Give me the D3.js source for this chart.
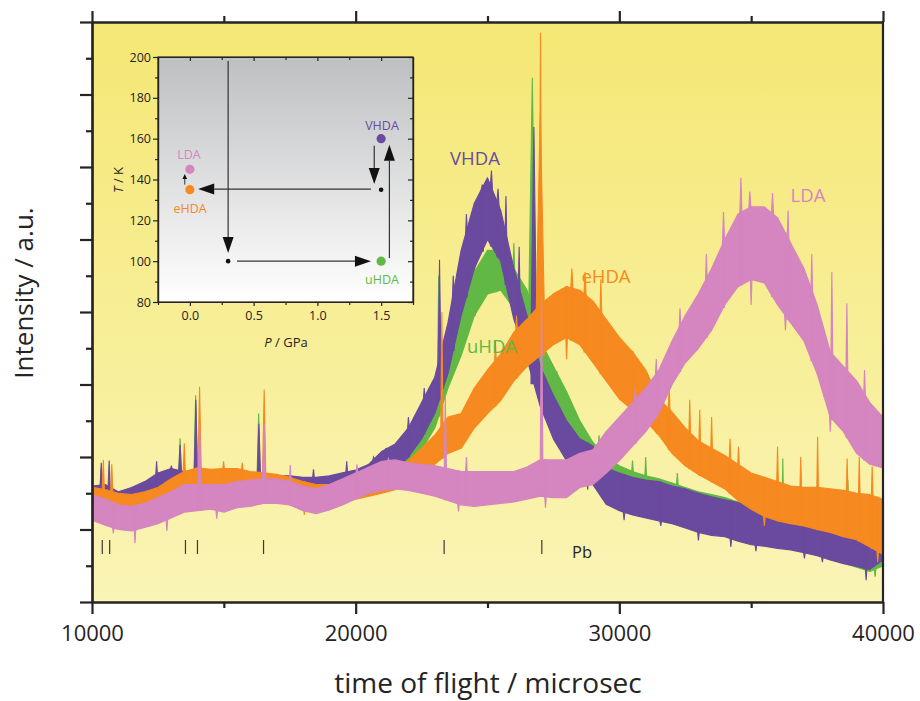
<!DOCTYPE html>
<html><head><meta charset="utf-8">
<script src="https://cdn.jsdelivr.net/npm/d3@7"></script>
<style>body{margin:0;background:#fff}svg{display:block}text{font-family:"Open Sans",sans-serif}</style>
</head><body>
<svg id="c" width="920" height="701"></svg>
<script>
// ---------- DATA (time of flight in microsec, intensity in arbitrary units) ----------
const tof = [10000,10500,11000,11500,12000,12500,13000,13500,14000,14500,
             15000,15500,16000,16500,17000,17500,18000,18500,19000,19500,
             20000,20500,21000,21500,22000,22500,23000,23500,24000,24500,
             25000,25500,26000,26500,27000,27500,28000,28500,29000,29500,
             30000,30500,31000,31500,32000,32500,33000,33500,34000,34500,
             35000,35500,36000,36500,37000,37500,38000,38500,39000,39500,40000];

// lower / upper edge of the noisy trace
const vhdaLo = [1.36,1.34,1.31,1.36,1.41,1.50,1.56,1.50,1.52,1.52,
                1.54,1.52,1.50,1.48,1.46,1.45,1.42,1.44,1.48,1.50,
                1.54,1.60,1.70,1.82,2.00,2.25,2.60,3.15,3.95,4.60,
                5.00,4.70,3.90,3.35,2.70,2.25,1.95,1.75,1.62,1.35,
                1.26,1.20,1.16,1.12,1.08,1.02,0.96,0.92,0.90,0.84,
                0.79,0.77,0.74,0.72,0.68,0.64,0.58,0.53,0.49,0.45,0.58];
const vhdaHi = [1.60,1.62,1.52,1.58,1.66,1.78,1.84,1.80,1.82,1.78,
                1.78,1.78,1.76,1.76,1.74,1.74,1.72,1.72,1.74,1.78,
                1.82,1.90,2.08,2.18,2.40,2.75,3.10,3.85,4.85,5.50,
                5.85,5.40,4.60,3.95,3.25,2.85,2.50,2.25,2.15,1.85,
                1.78,1.72,1.68,1.66,1.60,1.56,1.50,1.45,1.41,1.37,
                1.32,1.28,1.25,1.22,1.19,1.15,1.10,1.07,1.04,1.10,1.28];
const uhdaLo = [1.34,1.32,1.30,1.33,1.38,1.46,1.52,1.50,1.50,1.50,
                1.52,1.50,1.48,1.46,1.45,1.44,1.42,1.43,1.46,1.50,
                1.53,1.58,1.66,1.76,1.90,2.10,2.40,2.95,3.40,3.95,
                4.25,4.30,4.05,3.70,3.10,2.70,2.35,2.00,1.72,1.56,
                1.40,1.32,1.27,1.24,1.18,1.10,1.02,0.96,0.92,0.86,
                0.82,0.80,0.76,0.73,0.70,0.66,0.60,0.54,0.48,0.42,0.50];
const uhdaHi = [1.58,1.58,1.50,1.55,1.62,1.74,1.80,1.78,1.80,1.76,
                1.76,1.76,1.74,1.74,1.72,1.72,1.70,1.70,1.73,1.77,
                1.80,1.88,2.00,2.10,2.28,2.55,2.90,3.45,4.05,4.55,
                4.85,4.85,4.60,4.30,3.60,3.25,2.90,2.50,2.20,2.00,
                1.88,1.80,1.74,1.70,1.64,1.58,1.52,1.48,1.44,1.38,
                1.35,1.30,1.27,1.24,1.20,1.17,1.12,1.08,1.05,1.08,1.18];
const ehdaLo = [1.27,1.24,1.22,1.22,1.24,1.28,1.36,1.45,1.50,1.55,
                1.54,1.55,1.54,1.52,1.50,1.46,1.34,1.32,1.34,1.38,
                1.42,1.46,1.50,1.55,1.64,1.78,1.90,2.05,2.12,2.40,
                2.60,2.78,3.05,3.25,3.40,3.55,3.65,3.55,3.30,3.05,
                2.80,2.65,2.50,2.30,2.05,1.88,1.76,1.66,1.56,1.40,
                1.28,1.18,1.12,1.08,1.05,1.00,0.96,0.90,0.86,0.76,0.66];
const ehdaHi = [1.58,1.55,1.50,1.48,1.52,1.58,1.70,1.80,1.85,1.83,
                1.84,1.84,1.80,1.78,1.76,1.72,1.66,1.62,1.62,1.64,
                1.68,1.72,1.76,1.82,1.95,2.12,2.30,2.55,2.60,2.95,
                3.20,3.42,3.72,3.90,4.10,4.25,4.35,4.30,4.15,3.90,
                3.65,3.45,3.20,2.80,2.62,2.40,2.22,2.12,2.02,1.90,
                1.78,1.72,1.66,1.60,1.58,1.58,1.56,1.54,1.50,1.48,1.42];
const ldaLo  = [1.13,1.06,1.00,0.98,1.03,1.08,1.16,1.24,1.26,1.28,
                1.24,1.30,1.32,1.36,1.36,1.34,1.26,1.22,1.27,1.34,
                1.42,1.50,1.54,1.56,1.54,1.50,1.46,1.40,1.34,1.32,
                1.34,1.36,1.38,1.42,1.46,1.44,1.44,1.58,1.62,1.78,
                1.95,2.15,2.35,2.60,3.00,3.30,3.50,3.75,4.10,4.35,
                4.45,4.40,4.10,3.85,3.60,3.15,2.55,2.35,2.05,1.90,1.85];
const ldaHi  = [1.48,1.42,1.34,1.32,1.36,1.44,1.52,1.62,1.62,1.62,
                1.62,1.66,1.68,1.70,1.70,1.66,1.60,1.56,1.62,1.70,
                1.78,1.86,1.94,1.96,1.92,1.90,1.88,1.84,1.80,1.80,
                1.80,1.80,1.80,1.86,1.96,1.96,1.96,2.05,2.10,2.35,
                2.55,2.75,2.95,3.20,3.60,3.95,4.25,4.60,5.00,5.35,
                5.45,5.45,5.30,4.95,4.60,4.10,3.45,3.25,3.05,2.75,2.55];

// sharp features: [tof, intensity, half width in microsec]
// (values above the trace are peaks, values below it are dips)
const vhdaPeaks = [[10350,1.92,40],[10650,1.95,40],[12450,1.94,30],[13010,1.88,30],[13340,2.17,50],[13940,2.79,60],
                   [16330,2.46,60],[18400,1.83,30],[19660,1.94,30],[20680,2.00,30],[21160,2.12,30],[22000,2.55,30],
                   [22600,2.95,30],[23180,4.72,50],[23700,4.50,30],[24200,5.35,30],[24800,5.75,40],[25150,5.95,40],
                   [25400,5.70,40],[25700,5.60,30],[26200,4.90,30],[26760,6.55,110],[39300,1.45,30],
                   [28800,1.55,30],[30180,1.13,30],[31570,1.05,30],[33000,0.85,30],[34230,0.76,30],[35180,0.70,30],
                   [37020,0.60,30],[37700,0.55,30],[39360,0.30,30]];
const uhdaPeaks = [[10350,1.85,40],[13340,2.26,50],[13930,2.85,60],[16320,2.60,60],[23150,4.50,50],[24500,4.75,30],
                   [25300,5.05,40],[26000,4.95,30],[26700,7.23,130],[29230,2.30,30],[30500,1.95,30],[31000,2.00,30],
                   [32200,1.78,30],[36200,1.98,30],[36800,1.60,30],[38670,1.68,30],
                   [27600,2.55,30],[39700,0.35,30]];
const ehdaPeaks = [[10430,1.96,40],[10750,1.90,40],[13500,2.19,40],[14080,2.97,60],[14990,1.94,30],[15700,1.92,30],
                   [16530,2.93,60],[23270,4.00,40],[25300,3.60,30],[26100,3.95,30],[27000,6.74,150],[27010,7.85,50],
                   [28200,4.60,40],[28700,4.55,40],[29300,4.45,30],[31440,3.10,30],[31890,3.00,30],[32670,2.79,30],
                   [33050,2.65,30],[33500,2.55,30],[34200,2.25,30],[34520,2.14,30],[36000,2.14,30],[36880,2.00,30],
                   [37520,2.28,30],[38640,1.98,30],[39100,2.00,30],[39590,1.87,30],
                   [18050,1.20,30],[28000,3.35,30],[30500,2.40,30],[35500,1.05,30],[39800,0.55,30]];
const ldaPeaks  = [[14080,2.46,60],[16530,2.46,60],[17520,1.89,30],[20050,1.90,30],[21240,1.98,30],[23400,2.83,40],
                   [24200,2.00,30],[27050,4.20,50],[30600,2.95,30],[31400,3.35,30],[32300,4.05,30],[33300,4.80,30],
                   [33950,5.38,40],[34610,5.85,40],[34950,5.66,40],[35810,5.64,40],[36400,5.40,30],[37300,4.80,30],
                   [38060,4.55,35],[38630,4.12,35],[39300,3.20,30],
                   [10810,0.95,30],[11630,0.81,30],[12840,0.98,30],[14730,1.15,30],[23900,1.25,30],[27200,1.30,30],
                   [35000,4.10,30],[36300,3.75,30],[38000,2.35,30]];

const seriesNames = ["uHDA","VHDA","eHDA","LDA"];
const pbPositions = [10390,10670,13545,14000,16506,23355,27060];
const xMajorTicks = [10000,20000,30000,40000];
const xMinorTicks = [15000,25000,35000];
const yMajorTicks = [0,1,2,3,4,5,6,7,8];
const yMinorTicks = [0.5,1.5,2.5,3.5,4.5,5.5,6.5,7.5];

// inset: pressure / temperature path
const stateNames = ["LDA","eHDA","VHDA","uHDA"];
const stateP = [0, 0, 1.5, 1.5];
const stateT = [145, 135, 160, 100];
const waypointP = [0.3, 1.5];
const waypointT = [100, 135];
// arrows [P1, T1, P2, T2]
const arrows = [[0.3,198,0.3,104],[0.37,100,1.42,100],[1.565,101.5,1.565,157],
                [1.446,156.5,1.446,137.8],[1.42,135.3,0.065,135.3]];
const smallArrows = [[-0.04,137.5,-0.04,142.7]];
const insetPTicks = [0,0.5,1.0,1.5];
const insetPMinor = [-0.25,0.25,0.75,1.25,1.75];
const insetTTicks = [80,100,120,140,160,180,200];
const insetTMinor = [90,110,130,150,170,190];

// ---------- STYLE ----------
const colors = {VHDA:"#6a4a9e", uHDA:"#62b845", eHDA:"#f6891f", LDA:"#d585bf"};
const ink = "#262324";

const svg = d3.select("#c");
const defs = svg.append("defs");
const bg = defs.append("linearGradient").attr("id","bg").attr("x1",0).attr("y1",0).attr("x2",0).attr("y2",1);
bg.append("stop").attr("offset","0%").attr("stop-color","#f5e774");
bg.append("stop").attr("offset","100%").attr("stop-color","#faf4b6");
const ig = defs.append("linearGradient").attr("id","ig").attr("x1",0).attr("y1",0).attr("x2",0).attr("y2",1);
ig.append("stop").attr("offset","0%").attr("stop-color","#bebfc1");
ig.append("stop").attr("offset","100%").attr("stop-color","#ffffff");

const x = d3.scaleLinear().domain([10000,40000]).range([92,883]);
const y = d3.scaleLinear().domain([0,8]).range([602,22]);

defs.append("clipPath").attr("id","clip").append("rect")
  .attr("x",92).attr("y",22).attr("width",791).attr("height",580);

svg.append("rect").attr("x",92).attr("y",22).attr("width",791).attr("height",580).attr("fill","url(#bg)");

function interp(arr, t){
  let i = d3.bisectRight(tof, t) - 1;
  i = Math.max(0, Math.min(tof.length-2, i));
  const f = (t - tof[i])/(tof[i+1]-tof[i]);
  return arr[i] + (arr[i+1]-arr[i])*f;
}
const area = d3.area().x(d=>x(d.t)).y0(d=>y(d.lo)).y1(d=>y(d.hi));

const plot = svg.append("g").attr("clip-path","url(#clip)");
const seriesData = {
  uHDA:{lo:uhdaLo,hi:uhdaHi,peaks:uhdaPeaks},
  VHDA:{lo:vhdaLo,hi:vhdaHi,peaks:vhdaPeaks},
  eHDA:{lo:ehdaLo,hi:ehdaHi,peaks:ehdaPeaks},
  LDA:{lo:ldaLo,hi:ldaHi,peaks:ldaPeaks}
};
seriesNames.forEach(name=>{
  const s = seriesData[name], c = colors[name];
  const g = plot.append("g");
  const pts = tof.map((t,i)=>({t, lo:s.lo[i], hi:s.hi[i]}));
  g.append("path").attr("d",area(pts)).attr("fill",c).attr("stroke",c)
    .attr("stroke-width",1.2).attr("stroke-linejoin","round");
  s.peaks.forEach(([t,p,w])=>{
    const loT = interp(s.lo,t), hiT = interp(s.hi,t);
    let tri;
    if (p >= hiT) {
      tri = [{t:t-w,lo:loT,hi:interp(s.hi,t-w)},{t:t,lo:loT,hi:p},{t:t+w,lo:loT,hi:interp(s.hi,t+w)}];
    } else {
      tri = [{t:t-w,lo:interp(s.lo,t-w),hi:hiT},{t:t,lo:p,hi:hiT},{t:t+w,lo:interp(s.lo,t+w),hi:hiT}];
    }
    g.append("path").attr("d",area(tri)).attr("fill",c).attr("stroke",c).attr("stroke-width",1.1)
      .attr("stroke-linejoin","miter");
  });
});

// Pb reflection markers
svg.append("g").selectAll("line").data(pbPositions).join("line")
  .attr("x1",d=>x(d)).attr("x2",d=>x(d)).attr("y1",540).attr("y2",554)
  .attr("stroke","#3a3a3a").attr("stroke-width",1.2);
svg.append("text").attr("x",572).attr("y",558).attr("font-size",16.5).attr("fill",ink).text("Pb");

// series labels
const lbl = [["VHDA",475,165],["uHDA",492,353],["eHDA",606,283],["LDA",808,202]];
lbl.forEach(([n,lx,ly])=>svg.append("text").attr("x",lx).attr("y",ly).attr("text-anchor","middle")
  .attr("font-size",18.5).attr("fill",colors[n]).text(n));

// ---------- AXES ----------
function styleAxis(g, sw){
  g.selectAll("path.domain").attr("stroke",ink).attr("stroke-width",sw);
  g.selectAll(".tick line").attr("stroke",ink).attr("stroke-width",sw);
}
const axB = svg.append("g").attr("transform","translate(0,602)")
  .call(d3.axisBottom(x).tickValues(xMajorTicks).tickSize(12).tickSizeOuter(0).tickPadding(11).tickFormat(d3.format("d")));
axB.selectAll("text").attr("font-size",22).attr("fill",ink).attr("font-family","'Open Sans',sans-serif");
styleAxis(axB,2.2);
const axB2 = svg.append("g").attr("transform","translate(0,602)")
  .call(d3.axisBottom(x).tickValues(xMinorTicks).tickSize(6).tickSizeOuter(0).tickFormat(""));
styleAxis(axB2,2.2);
const axT = svg.append("g").attr("transform","translate(0,22)")
  .call(d3.axisTop(x).tickValues(xMajorTicks).tickSize(11).tickSizeOuter(0).tickFormat(""));
styleAxis(axT,2.2);
const axT2 = svg.append("g").attr("transform","translate(0,22)")
  .call(d3.axisTop(x).tickValues(xMinorTicks).tickSize(6).tickSizeOuter(0).tickFormat(""));
styleAxis(axT2,2.2);
const axL = svg.append("g").attr("transform","translate(92,0)")
  .call(d3.axisLeft(y).tickValues(yMajorTicks).tickSize(12).tickSizeOuter(0).tickFormat(""));
styleAxis(axL,2.2);
const axL2 = svg.append("g").attr("transform","translate(92,0)")
  .call(d3.axisLeft(y).tickValues(yMinorTicks).tickSize(6).tickSizeOuter(0).tickFormat(""));
styleAxis(axL2,2.2);
svg.append("line").attr("x1",883).attr("x2",883).attr("y1",21).attr("y2",603).attr("stroke",ink).attr("stroke-width",2.2);

svg.append("text").attr("x",488).attr("y",693).attr("text-anchor","middle").attr("font-size",28)
  .attr("fill",ink).text("time of flight / microsec");
svg.append("text").attr("transform","translate(33,293) rotate(-90)").attr("text-anchor","middle")
  .attr("font-size",26).attr("fill",ink).text("Intensity / a.u.");

// ---------- INSET ----------
const ix = d3.scaleLinear().domain([-0.25,1.75]).range([158,413]);
const iy = d3.scaleLinear().domain([80,200]).range([302,57]);
const inset = svg.append("g");
inset.append("rect").attr("x",158).attr("y",57).attr("width",255).attr("height",245).attr("fill","url(#ig)");

function iAxis(gen, tr, sw){
  const g = inset.append("g").attr("transform",tr).call(gen);
  g.selectAll("path.domain").attr("stroke",ink).attr("stroke-width",sw);
  g.selectAll(".tick line").attr("stroke",ink).attr("stroke-width",sw);
  g.selectAll("text").attr("font-size",12.5).attr("fill",ink).attr("font-family","'Open Sans',sans-serif");
  return g;
}
iAxis(d3.axisBottom(ix).tickValues(insetPTicks).tickSize(4).tickSizeOuter(0).tickPadding(5).tickFormat(d3.format(".1f")),"translate(0,302)",1.2);
iAxis(d3.axisBottom(ix).tickValues(insetPMinor).tickSize(3).tickSizeOuter(0).tickFormat(""),"translate(0,302)",1.2);
iAxis(d3.axisLeft(iy).tickValues(insetTTicks).tickSize(5).tickSizeOuter(0).tickPadding(2).tickFormat(d3.format("d")),"translate(158,0)",1.2);
iAxis(d3.axisLeft(iy).tickValues(insetTMinor).tickSize(3).tickSizeOuter(0).tickFormat(""),"translate(158,0)",1.2);
iAxis(d3.axisTop(ix).tickValues(insetPTicks).tickSize(-4).tickSizeOuter(0).tickFormat(""),"translate(0,57)",1.2);
iAxis(d3.axisTop(ix).tickValues(insetPMinor).tickSize(-3).tickSizeOuter(0).tickFormat(""),"translate(0,57)",1.2);
iAxis(d3.axisRight(iy).tickValues(insetTTicks).tickSize(-5).tickSizeOuter(0).tickFormat(""),"translate(413,0)",1.2);
iAxis(d3.axisRight(iy).tickValues(insetTMinor).tickSize(-3).tickSizeOuter(0).tickFormat(""),"translate(413,0)",1.2);
inset.append("rect").attr("x",158).attr("y",57).attr("width",255).attr("height",245)
  .attr("fill","none").attr("stroke",ink).attr("stroke-width",1.2);

const pl = inset.append("text").attr("x",286).attr("y",347).attr("text-anchor","middle").attr("font-size",13).attr("fill",ink);
pl.append("tspan").attr("font-style","italic").text("P");
pl.append("tspan").text(" / GPa");
const tl = inset.append("text").attr("transform","translate(123,180) rotate(-90)").attr("text-anchor","middle").attr("font-size",13).attr("fill",ink);
tl.append("tspan").attr("font-style","italic").text("T");
tl.append("tspan").text(" / K");

function arrow(a, len, hw, sw){
  const [p1,t1,p2,t2] = a;
  const x1 = ix(p1), y1 = iy(t1), x2 = ix(p2), y2 = iy(t2);
  const dx = x2-x1, dy = y2-y1, L = Math.hypot(dx,dy), ux = dx/L, uy = dy/L;
  const bx = x2-ux*len, by = y2-uy*len;
  inset.append("line").attr("x1",x1).attr("y1",y1).attr("x2",bx).attr("y2",by)
    .attr("stroke","#333").attr("stroke-width",sw);
  inset.append("path").attr("d",`M${x2},${y2}L${bx-uy*hw},${by+ux*hw}L${bx+uy*hw},${by-ux*hw}Z`).attr("fill","#111");
}
arrows.forEach(a=>arrow(a,16,5.5,1.2));
smallArrows.forEach(a=>arrow(a,5,2.3,1));

waypointP.forEach((p,i)=>inset.append("circle").attr("cx",ix(p)).attr("cy",iy(waypointT[i])).attr("r",2.3).attr("fill","#111"));
stateNames.forEach((n,i)=>inset.append("circle").attr("cx",ix(stateP[i])).attr("cy",iy(stateT[i])).attr("r",4.6).attr("fill",colors[n]));
const stLbl = [["LDA",189,159],["eHDA",190,213],["VHDA",382,130],["uHDA",382,284]];
stLbl.forEach(([n,lx,ly])=>inset.append("text").attr("x",lx).attr("y",ly).attr("text-anchor","middle")
  .attr("font-size",12.5).attr("fill",colors[n]).text(n));
</script>
</body></html>
